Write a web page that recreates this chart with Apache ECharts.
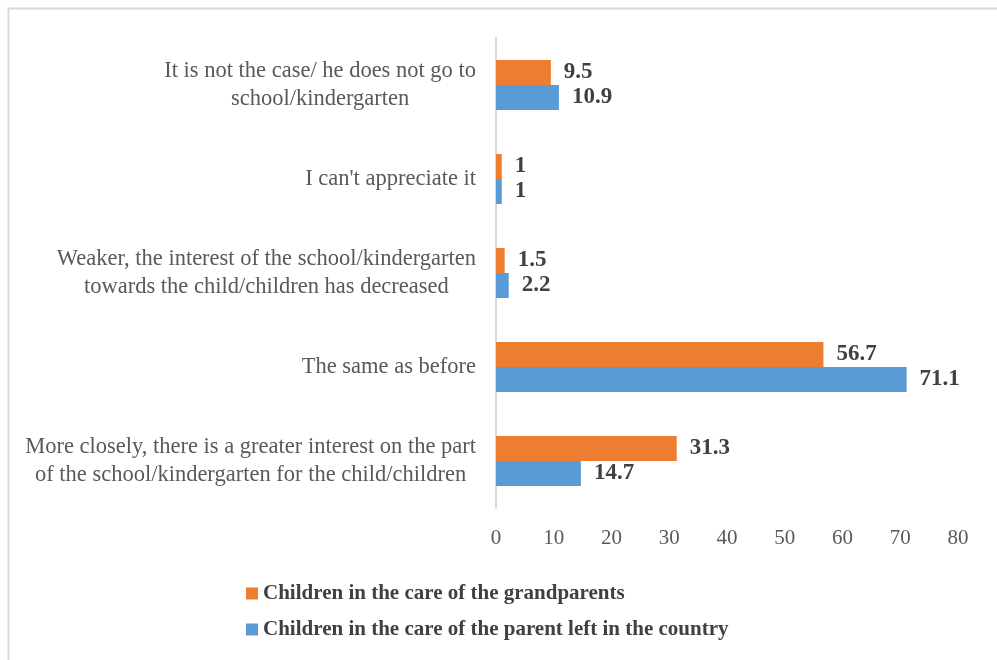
<!DOCTYPE html>
<html>
<head>
<meta charset="utf-8">
<script src="https://cdn.jsdelivr.net/npm/echarts@6/dist/echarts.min.js"></script>
<style>
  html, body { margin: 0; padding: 0; background: #ffffff; }
  #chart { width: 997px; height: 660px; }
</style>
</head>
<body>
<div id="chart"></div>
<script>
// Answer categories, listed from the bottom of the axis to the top
const categories = [
  "More closely, there is a greater interest on the part\nof the school/kindergarten for the child/children",
  "The same as before",
  "Weaker, the interest of the school/kindergarten\ntowards the child/children has decreased",
  "I can't appreciate it",
  "It is not the case/ he does not go to\nschool/kindergarten"
];

// Percentages per group
const grandparents = [31.3, 56.7, 1.5, 1, 9.5];
const parentLeft = [14.7, 71.1, 2.2, 1, 10.9];

const seriesNames = [
  "Children in the care of the grandparents",
  "Children in the care of the parent left in the country"
];

const xTicks = { min: 0, max: 80, interval: 10 };

const serif = "'Liberation Serif', 'Times New Roman', serif";

const chart = echarts.init(document.getElementById('chart'));

const valueLabel = {
  show: true,
  position: 'right',
  distance: 13,
  fontFamily: serif,
  fontWeight: 'bold',
  fontSize: 23,
  color: '#404040'
};

chart.setOption({
  animation: false,
  backgroundColor: '#ffffff',
  graphic: [{
    type: 'rect',
    left: 6,
    top: 6,
    shape: { width: 1000, height: 700 },
    style: { fill: 'none', stroke: '#d9d9d9', lineWidth: 2 },
    silent: true
  }],
  grid: { left: 496, right: 39, top: 38, bottom: 152 },
  legend: {
    orient: 'vertical',
    left: 241,
    top: 577,
    itemWidth: 12,
    itemHeight: 12,
    itemGap: 13,
    icon: 'rect',
    textStyle: {
      fontFamily: serif,
      fontWeight: 'bold',
      fontSize: 21,
      color: '#404040',
      lineHeight: 23
    },
    data: seriesNames
  },
  xAxis: {
    type: 'value',
    min: xTicks.min,
    max: xTicks.max,
    interval: xTicks.interval,
    axisLine: { show: false },
    axisTick: { show: false },
    splitLine: { show: false },
    axisLabel: {
      margin: 20,
      fontFamily: serif,
      fontSize: 21,
      color: '#595959'
    }
  },
  yAxis: {
    type: 'category',
    data: categories,
    axisLine: { show: true, lineStyle: { color: '#d9d9d9', width: 2 } },
    axisTick: { show: false },
    axisLabel: {
      margin: 20,
      fontFamily: serif,
      fontSize: 22.5,
      lineHeight: 28,
      color: '#595959',
      formatter: function (v) {
        return v.split('\n').map(function (line) { return '{c|' + line + '}'; }).join('\n');
      },
      rich: {
        c: {
          align: 'center',
          fontFamily: serif,
          fontSize: 22.5,
          lineHeight: 28,
          color: '#595959'
        }
      }
    }
  },
  series: [
    {
      name: seriesNames[0],
      type: 'bar',
      data: grandparents,
      barWidth: 25,
      barGap: '0%',
      itemStyle: { color: '#ED7D31' },
      label: valueLabel
    },
    {
      name: seriesNames[1],
      type: 'bar',
      data: parentLeft,
      barWidth: 25,
      barGap: '0%',
      itemStyle: { color: '#5B9BD5' },
      label: valueLabel
    }
  ]
});
</script>
</body>
</html>
